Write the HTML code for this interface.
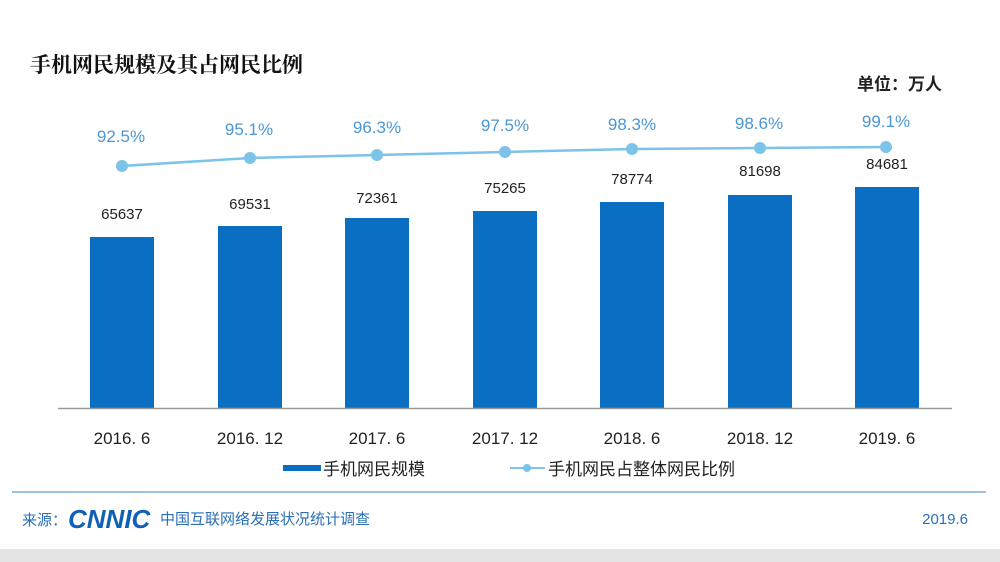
<!DOCTYPE html>
<html><head><meta charset="utf-8"><style>
body{margin:0;background:#fff;}
svg{display:block;}
</style></head><body>
<svg width="1000" height="562" xmlns="http://www.w3.org/2000/svg" font-family="Liberation Sans, Noto Sans CJK SC, sans-serif">
<rect width="1000" height="562" fill="#fff"/>
<text x="30" y="72" font-size="21" font-weight="bold" font-family="Noto Serif CJK SC, serif" fill="#111">手机网民规模及其占网民比例</text>
<text x="942" y="90" font-size="17" font-weight="bold" text-anchor="end" font-family="Noto Sans CJK SC, sans-serif" fill="#222">单位：万人</text>
<g fill="#0a6fc2">
<rect x="90" y="237" width="64" height="171"/>
<rect x="218" y="226" width="64" height="182"/>
<rect x="345" y="218" width="64" height="190"/>
<rect x="473" y="211" width="64" height="197"/>
<rect x="600" y="202" width="64" height="206"/>
<rect x="728" y="195" width="64" height="213"/>
<rect x="855" y="187" width="64" height="221"/>
</g>
<line x1="58" y1="408.5" x2="952" y2="408.5" stroke="#999" stroke-width="1.5"/>
<g font-size="15" fill="#222" text-anchor="middle">
<text x="122" y="219">65637</text><text x="250" y="209">69531</text><text x="377" y="203">72361</text><text x="505" y="193">75265</text><text x="632" y="184">78774</text><text x="760" y="176">81698</text><text x="887" y="169">84681</text>
</g>
<polyline points="122,166 250,158 377,155 505,152 632,149 760,148 886,147" fill="none" stroke="#7cc3ea" stroke-width="2.5"/>
<g fill="#7cc3ea">
<circle cx="122" cy="166" r="6"/><circle cx="250" cy="158" r="6"/><circle cx="377" cy="155" r="6"/><circle cx="505" cy="152" r="6"/><circle cx="632" cy="149" r="6"/><circle cx="760" cy="148" r="6"/><circle cx="886" cy="147" r="6"/>
</g>
<g font-size="17" fill="#4b97d4" text-anchor="middle">
<text x="121" y="142">92.5%</text><text x="249" y="135">95.1%</text><text x="377" y="133">96.3%</text><text x="505" y="131">97.5%</text><text x="632" y="130">98.3%</text><text x="759" y="129">98.6%</text><text x="886" y="127">99.1%</text>
</g>
<g font-size="17" fill="#222" text-anchor="middle">
<text x="122" y="444">2016. 6</text><text x="250" y="444">2016. 12</text><text x="377" y="444">2017. 6</text><text x="505" y="444">2017. 12</text><text x="632" y="444">2018. 6</text><text x="760" y="444">2018. 12</text><text x="887" y="444">2019. 6</text>
</g>
<rect x="283" y="465" width="38" height="6" fill="#0a6fc2"/>
<text x="323" y="475" font-size="17" fill="#222">手机网民规模</text>
<line x1="510" y1="468" x2="545" y2="468" stroke="#7cc3ea" stroke-width="2"/>
<circle cx="527" cy="468" r="4" fill="#7cc3ea"/>
<text x="548" y="475" font-size="17" fill="#222">手机网民占整体网民比例</text>
<line x1="12" y1="492" x2="986" y2="492" stroke="#9ec0e4" stroke-width="2"/>
<text x="22" y="525" font-size="15" fill="#2a6fb8">来源：</text>
<text x="68" y="528" font-size="26" font-weight="bold" fill="#1060b8" font-style="italic">CNNIC</text>
<text x="160" y="524" font-size="15" fill="#2a6fb8">中国互联网络发展状况统计调查</text>
<text x="968" y="524" font-size="15" fill="#2a6fb8" text-anchor="end">2019.6</text>
<rect x="0" y="549" width="1000" height="13" fill="#e5e5e5"/>
</svg>
</body></html>
